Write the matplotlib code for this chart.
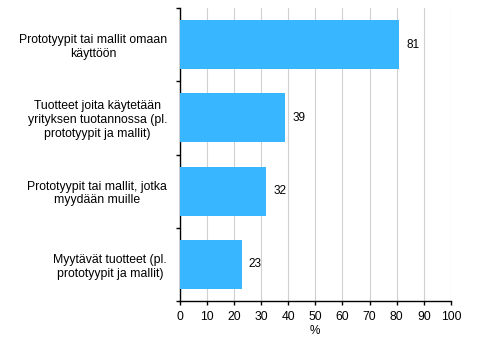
import matplotlib
matplotlib.use("Agg")
import matplotlib.pyplot as plt
import numpy as np

categories = [
    "Prototyypit tai mallit omaan\nkäyttöön",
    "Tuotteet joita käytetään\nyrityksen tuotannossa (pl.\nprototyypit ja mallit)",
    "Prototyypit tai mallit, jotka\nmyydään muille",
    "Myytävät tuotteet (pl.\nprototyypit ja mallit)",
]
values = [81, 39, 32, 23]
xticks = list(range(0, 101, 10))

plt.rcParams['font.family'] = ['Liberation Sans', 'DejaVu Sans']

fig = plt.figure(figsize=(4.91, 3.42), dpi=100)
ax = fig.add_axes([179.5/491, 1 - 301/342, (451 - 179.5)/491, (301 - 8)/342])

n = len(categories)
y = np.arange(n)
ax.barh(y, values, height=0.67, color="#38b6ff", zorder=3)
ax.set_ylim(n - 0.5, -0.5)
ax.set_xlim(0, 100)
ax.set_xticks(xticks)
ax.set_xticklabels([str(t) for t in xticks], fontsize=8.7)
ax.set_yticks(y)
ax.set_yticklabels(categories, fontsize=8.8, ha="right", multialignment="center")
ax.set_yticks(np.arange(-0.5, n, 1), minor=True)
ax.tick_params(axis="y", which="major", length=0, pad=9)
ax.tick_params(axis="y", which="minor", length=3, width=1, direction="out")
ax.tick_params(axis="x", length=3, width=1, direction="out", pad=4)
ax.grid(axis="x", color="#d0d0d0", linewidth=0.8, zorder=0)
for s in ["top", "right"]:
    ax.spines[s].set_visible(False)
ax.spines["left"].set_linewidth(1)
ax.spines["bottom"].set_linewidth(1)
for yi, v in zip(y, values):
    ax.text(v + 2.5, yi, str(v), va="center", ha="left", fontsize=8.5)
ax.set_xlabel("%", fontsize=8.5, labelpad=2)

fig.savefig("out.png", dpi=100)
